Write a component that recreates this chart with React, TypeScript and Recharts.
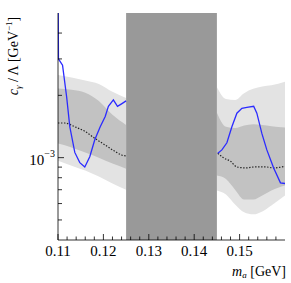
import React from 'react';
import { ComposedChart, Area, Line, XAxis, YAxis, ReferenceArea } from 'recharts';

const W = 291;
const H = 283;
const PLOT_LEFT = 58;
const PLOT_TOP = 13;
const PLOT_RIGHT = 285;
const PLOT_BOTTOM = 240;
const SERIF = '"Liberation Serif", "DejaVu Serif", serif';
const TXT = { fontFamily: SERIF };

// axis ticks
const X_DOMAIN = [0.11, 0.16];
const X_LABELS = [0.11, 0.12, 0.13, 0.14, 0.15];
const X_TICKS = [
    0.11, 0.112, 0.114, 0.116, 0.118, 0.12, 0.122, 0.124, 0.126, 0.128,
    0.13, 0.132, 0.134, 0.136, 0.138, 0.14, 0.142, 0.144, 0.146, 0.148,
    0.15, 0.152, 0.154, 0.156, 0.158,
];
const Y_DOMAIN = [4e-4, 5e-3];
const Y_TICKS = [5e-4, 6e-4, 7e-4, 8e-4, 9e-4, 1e-3, 2e-3, 3e-3, 4e-3];
const Y_MAJOR = [1e-3];

// excluded mass window (pi0 region)
const EXCLUDED = [0.125, 0.145];

// expected bands, left of the excluded window
const bandMassLeft = [0.110, 0.113, 0.116, 0.119, 0.122, 0.125];
const outerLoLeft = [0.967e-3, 0.915e-3, 0.866e-3, 0.81e-3, 0.75e-3, 0.70e-3];
const outerHiLeft = [2.51e-3, 2.44e-3, 2.36e-3, 2.27e-3, 2.08e-3, 1.94e-3];
const innerLoLeft = [1.17e-3, 1.12e-3, 1.06e-3, 1.0e-3, 0.936e-3, 0.885e-3];
const innerHiLeft = [2.16e-3, 2.13e-3, 2.06e-3, 1.88e-3, 1.61e-3, 1.44e-3];

// expected bands, right of the excluded window
const bandMassRight = [0.145, 0.147, 0.149, 0.151, 0.153, 0.155, 0.157, 0.160];
const outerLoRight = [0.694e-3, 0.664e-3, 0.594e-3, 0.544e-3, 0.532e-3, 0.55e-3, 0.588e-3, 0.657e-3];
const outerHiRight = [2.19e-3, 1.92e-3, 1.90e-3, 2.05e-3, 2.15e-3, 2.21e-3, 2.24e-3, 2.33e-3];
const innerLoRight = [0.819e-3, 0.788e-3, 0.70e-3, 0.628e-3, 0.628e-3, 0.657e-3, 0.694e-3, 0.734e-3];
const innerHiRight = [1.65e-3, 1.41e-3, 1.39e-3, 1.43e-3, 1.45e-3, 1.44e-3, 1.42e-3, 1.40e-3];

// median expected limit (dotted)
const expMassLeft = [0.110, 0.1115, 0.1137, 0.1159, 0.1181, 0.1204, 0.1226, 0.124, 0.125];
const expLeft = [1.47e-3, 1.47e-3, 1.41e-3, 1.34e-3, 1.24e-3, 1.15e-3, 1.07e-3, 1.03e-3, 1.02e-3];
const expMassRight = [0.1452, 0.1465, 0.148, 0.1494, 0.1513, 0.1535, 0.1557, 0.1575, 0.160];
const expRight = [1.05e-3, 0.997e-3, 0.96e-3, 0.902e-3, 0.892e-3, 0.902e-3, 0.902e-3, 0.892e-3, 0.908e-3];

// observed limit (blue)
const obsMassLeft = [
    0.110, 0.1101, 0.111, 0.1119, 0.1126, 0.1137, 0.1148, 0.1159, 0.117,
    0.1181, 0.1193, 0.1204, 0.1211, 0.1222, 0.1231, 0.124, 0.125,
];
const obsLeft = [
    8.0e-3, 3.0e-3, 2.8e-3, 1.97e-3, 1.41e-3, 1.06e-3, 0.946e-3, 0.902e-3, 1.01e-3,
    1.22e-3, 1.41e-3, 1.58e-3, 1.77e-3, 1.90e-3, 1.77e-3, 1.82e-3, 1.88e-3,
];
const obsMassRight = [
    0.1452, 0.1461, 0.1472, 0.1483, 0.1494, 0.1505, 0.1516, 0.1531, 0.1538,
    0.1549, 0.156, 0.1575, 0.159, 0.160,
];
const obsRight = [
    1.05e-3, 1.09e-3, 1.18e-3, 1.41e-3, 1.64e-3, 1.73e-3, 1.75e-3, 1.77e-3, 1.64e-3,
    1.31e-3, 1.09e-3, 0.892e-3, 0.756e-3, 0.75e-3,
];

const toBand = (m: number[], lo: number[], hi: number[]) =>
    m.map((x, i) => ({ m: x, band: [lo[i], hi[i]] }));
const toLine = (m: number[], v: number[]) => m.map((x, i) => ({ m: x, v: v[i] }));

const outerLeft = toBand(bandMassLeft, outerLoLeft, outerHiLeft);
const innerLeft = toBand(bandMassLeft, innerLoLeft, innerHiLeft);
const outerRight = toBand(bandMassRight, outerLoRight, outerHiRight);
const innerRight = toBand(bandMassRight, innerLoRight, innerHiRight);

const BottomTick = (props: any) => {
    const { x, payload } = props;
    const major = X_LABELS.includes(payload.value);
    return (
        <g>
            <line x1={x} x2={x} y1={PLOT_BOTTOM} y2={PLOT_BOTTOM - (major ? 6 : 3.5)} stroke="#000" strokeWidth={0.8} />
            {major && (
                <text x={x} y={256} textAnchor="middle" fontSize={15} style={TXT} fill="#000">
                    {payload.value.toFixed(2)}
                </text>
            )}
        </g>
    );
};

const TopTick = (props: any) => {
    const { x, payload } = props;
    const major = X_LABELS.includes(payload.value);
    return <line x1={x} x2={x} y1={PLOT_TOP} y2={PLOT_TOP + (major ? 6 : 3.5)} stroke="#000" strokeWidth={0.8} />;
};

const LeftTick = (props: any) => {
    const { y, payload } = props;
    const major = Y_MAJOR.includes(payload.value);
    return (
        <g>
            <line x1={PLOT_LEFT} x2={PLOT_LEFT + (major ? 6 : 4)} y1={y} y2={y} stroke="#000" strokeWidth={0.8} />
            {major && (
                <text x={55} y={y + 7} textAnchor="end" fontSize={15} style={TXT} fill="#000">
                    10
                    <tspan fontSize={10} dy={-8}>−3</tspan>
                </text>
            )}
        </g>
    );
};

const RightTick = (props: any) => {
    const { y, payload } = props;
    const major = Y_MAJOR.includes(payload.value);
    return <line x1={PLOT_RIGHT} x2={PLOT_RIGHT - (major ? 6 : 4)} y1={y} y2={y} stroke="#000" strokeWidth={0.8} />;
};

export default function App() {
    return (
        <div style={{ position: 'fixed', left: 0, top: 0, width: W, height: H, background: '#fff', fontFamily: SERIF }}>
            <ComposedChart width={W} height={H} margin={{ top: PLOT_TOP, right: W - PLOT_RIGHT, left: 0, bottom: 0 }}>
                <XAxis
                    dataKey="m"
                    type="number"
                    domain={X_DOMAIN}
                    ticks={X_TICKS}
                    interval={0}
                    allowDataOverflow
                    height={H - PLOT_BOTTOM}
                    tickLine={false}
                    tick={<BottomTick />}
                    axisLine={{ stroke: '#000', strokeWidth: 0.8 }}
                />
                <XAxis
                    xAxisId="top"
                    orientation="top"
                    dataKey="m"
                    type="number"
                    domain={X_DOMAIN}
                    ticks={X_TICKS}
                    interval={0}
                    allowDataOverflow
                    height={0}
                    tickLine={false}
                    tick={<TopTick />}
                    axisLine={{ stroke: '#000', strokeWidth: 0.8 }}
                />
                <YAxis
                    scale="log"
                    type="number"
                    domain={Y_DOMAIN}
                    ticks={Y_TICKS}
                    interval={0}
                    allowDataOverflow
                    width={PLOT_LEFT}
                    tickLine={false}
                    tick={<LeftTick />}
                    axisLine={{ stroke: '#000', strokeWidth: 0.8 }}
                />
                <YAxis
                    yAxisId="right"
                    orientation="right"
                    scale="log"
                    type="number"
                    domain={Y_DOMAIN}
                    ticks={Y_TICKS}
                    interval={0}
                    allowDataOverflow
                    width={0}
                    tickLine={false}
                    tick={<RightTick />}
                    axisLine={{ stroke: '#000', strokeWidth: 0.8 }}
                />
                <Area data={outerLeft} dataKey="band" type="monotone" fill="#e3e3e3" fillOpacity={1} stroke="none" isAnimationActive={false} />
                <Area data={outerRight} dataKey="band" type="monotone" fill="#e3e3e3" fillOpacity={1} stroke="none" isAnimationActive={false} />
                <Area data={innerLeft} dataKey="band" type="monotone" fill="#c2c2c2" fillOpacity={1} stroke="none" isAnimationActive={false} />
                <Area data={innerRight} dataKey="band" type="monotone" fill="#c2c2c2" fillOpacity={1} stroke="none" isAnimationActive={false} />
                <ReferenceArea x1={EXCLUDED[0]} x2={EXCLUDED[1]} fill="#999999" fillOpacity={1} stroke="none" />
                <Line data={toLine(expMassLeft, expLeft)} dataKey="v" type="monotone" stroke="#222" strokeWidth={1.2} strokeDasharray="1.4 1.6" dot={false} isAnimationActive={false} />
                <Line data={toLine(expMassRight, expRight)} dataKey="v" type="monotone" stroke="#222" strokeWidth={1.2} strokeDasharray="1.4 1.6" dot={false} isAnimationActive={false} />
                <Line data={toLine(obsMassLeft, obsLeft)} dataKey="v" type="linear" stroke="#2b2bff" strokeWidth={1.3} dot={false} isAnimationActive={false} />
                <Line data={toLine(obsMassRight, obsRight)} dataKey="v" type="linear" stroke="#2b2bff" strokeWidth={1.3} dot={false} isAnimationActive={false} />
            </ComposedChart>
            <svg width={W} height={H} style={{ position: 'absolute', left: 0, top: 0, pointerEvents: 'none' }}>
                <text transform="translate(18,56) rotate(-90)" textAnchor="middle" fontSize={14} style={TXT} fill="#000">
                    <tspan fontStyle="italic">c</tspan>
                    <tspan fontStyle="italic" fontSize={9} dy={3}>γ</tspan>
                    <tspan dy={-3}> / Λ [GeV</tspan>
                    <tspan fontSize={9} dy={-6}>−1</tspan>
                    <tspan dy={6}>]</tspan>
                </text>
                <text x={PLOT_RIGHT + 1} y={276} textAnchor="end" fontSize={14} style={TXT} fill="#000">
                    <tspan fontStyle="italic">m</tspan>
                    <tspan fontStyle="italic" fontSize={9} dy={2}>a</tspan>
                    <tspan dy={-2}> [GeV]</tspan>
                </text>
            </svg>
        </div>
    );
}
